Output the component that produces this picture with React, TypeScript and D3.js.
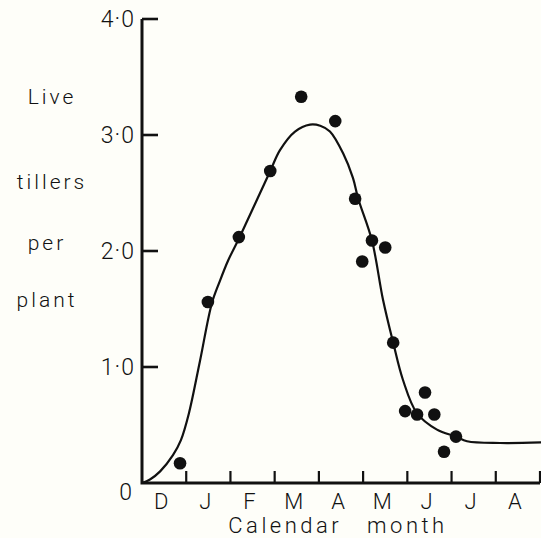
import React from 'react';
import * as d3 from 'd3';

// observed counts (month index from 1 Dec, live tillers per plant)
const obsMonth = [0.86, 1.49, 2.19, 2.9, 3.6, 4.37, 4.82, 5.2, 5.5, 4.98, 5.68, 5.95, 6.22, 6.4, 6.61, 6.83, 7.1];
const obsTillers = [0.17, 1.56, 2.12, 2.69, 3.33, 3.12, 2.45, 2.09, 2.03, 1.91, 1.21, 0.62, 0.59, 0.78, 0.59, 0.27, 0.4];

// fitted curve
const fitMonth = [0, 0.18, 0.41, 0.7, 0.88, 1.06, 1.31, 1.58, 1.76, 1.95, 2.22, 2.9, 3.12, 3.46, 3.8, 4.03, 4.25, 4.55, 4.77, 4.89, 5.2, 5.45, 5.68, 5.9, 6.22, 6.67, 7.1, 7.35, 8.1, 9.03];
const fitTillers = [0, 0.03, 0.1, 0.24, 0.37, 0.6, 1.05, 1.55, 1.74, 1.92, 2.13, 2.69, 2.87, 3.03, 3.09, 3.08, 3.03, 2.84, 2.63, 2.45, 2.09, 1.58, 1.21, 0.89, 0.6, 0.46, 0.4, 0.36, 0.345, 0.35];

const monthLabels = ['D', 'J', 'F', 'M', 'A', 'M', 'J', 'J', 'A'];
const yTicks = [0, 1, 2, 3, 4];
const yTickLabels = ['0', '1·0', '2·0', '3·0', '4·0'];
const yTitle = ['Live', 'tillers', 'per', 'plant'];

const W = 541;
const H = 538;
const font = 'Roboto, "DejaVu Sans", sans-serif';
const ink = '#111';

export default function App() {
  const x = d3.scaleLinear().domain([0, 9]).range([142, 540]);
  const y = d3.scaleLinear().domain([0, 4]).range([483, 19]);

  const line = d3
    .line<number>()
    .x((d, i) => x(fitMonth[i]))
    .y((d) => y(d))
    .curve(d3.curveCatmullRom.alpha(0.5));

  const titleY = [97, 182, 243, 300];
  const titleX = [52, 52, 47, 47];

  return (
    <svg width={W} height={H} style={{ position: 'absolute', left: 0, top: 0, background: '#fefef9' }}>
      <rect width={W} height={H} fill="#fefef9" />

      {/* fitted curve */}
      <path d={line(fitTillers) || ''} fill="none" stroke={ink} strokeWidth={2.2} />

      {/* points */}
      {obsMonth.map((m, i) => (
        <circle key={i} cx={x(m)} cy={y(obsTillers[i])} r={6.3} fill={ink} />
      ))}

      {/* axes */}
      <path d={`M${x(0)},${y(4)}V${y(0)}H${x(9)}`} fill="none" stroke={ink} strokeWidth={3} />
      {yTicks.slice(1).map((t) => (
        <line key={t} x1={x(0)} x2={x(0) + 16} y1={y(t)} y2={y(t)} stroke={ink} strokeWidth={2.6} />
      ))}
      {d3.range(1, 10).map((m) => (
        <line key={m} x1={x(m)} x2={x(m)} y1={y(0)} y2={y(0) - 12} stroke={ink} strokeWidth={2.2} />
      ))}

      {/* y tick labels */}
      {yTicks.map((t, i) => (
        <text
          key={t}
          x={t === 0 ? 133 : 135}
          y={t === 0 ? y(t) + 9 : y(t)}
          textAnchor="end"
          dominantBaseline="central"
          fontFamily={font}
          fontWeight={300}
          fontSize={23}
          letterSpacing={1}
          fill={ink}
        >
          {yTickLabels[i]}
        </text>
      ))}

      {/* month labels */}
      {monthLabels.map((lab, i) => (
        <text
          key={i}
          x={x(i + 0.5) - 3}
          y={501}
          textAnchor="middle"
          dominantBaseline="central"
          fontFamily={font}
          fontWeight={300}
          fontSize={22}
          fill={ink}
        >
          {lab}
        </text>
      ))}

      <text
        x={338}
        y={525}
        textAnchor="middle"
        dominantBaseline="central"
        fontFamily={font}
        fontWeight={300}
        fontSize={22}
        letterSpacing={3.5}
        wordSpacing={16}
        fill={ink}
      >
        Calendar month
      </text>

      {yTitle.map((w, i) => (
        <text
          key={w}
          x={titleX[i]}
          y={titleY[i]}
          textAnchor="middle"
          dominantBaseline="central"
          fontFamily={font}
          fontWeight={300}
          fontSize={21}
          letterSpacing={3}
          fill={ink}
        >
          {w}
        </text>
      ))}
    </svg>
  );
}
